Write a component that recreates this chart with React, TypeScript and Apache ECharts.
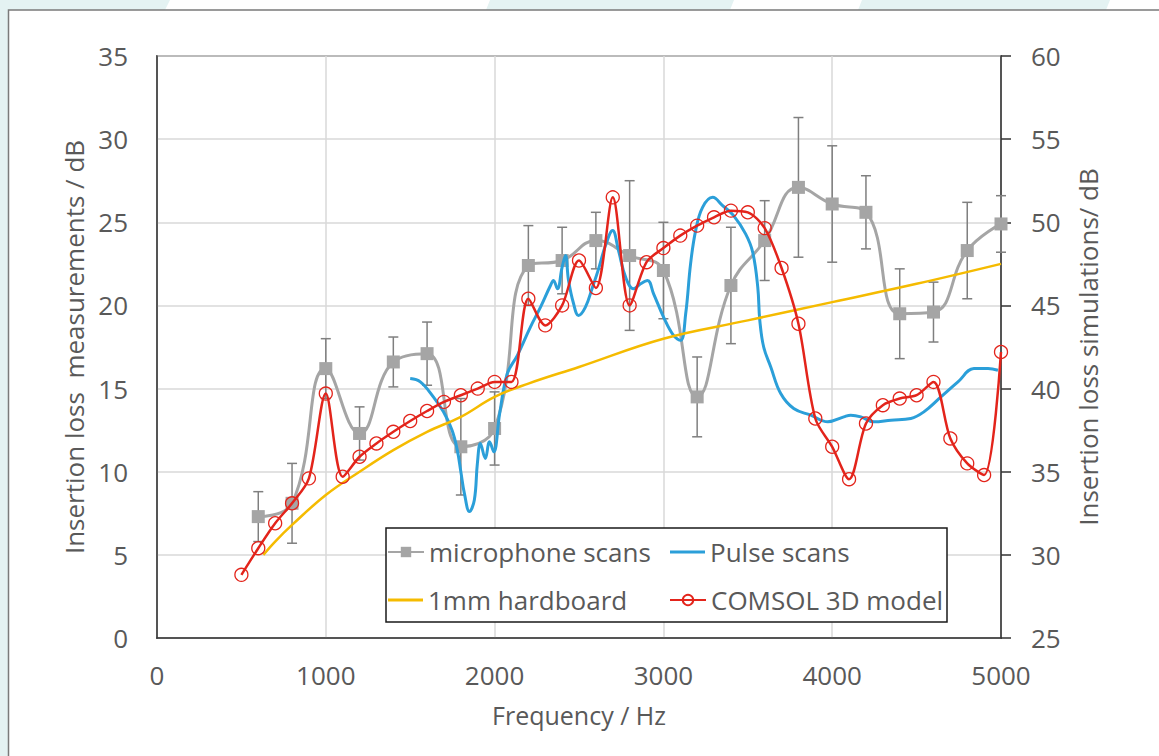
import React, { useEffect, useRef } from "react";
import * as echarts from "echarts";

// Microphone scans (left axis), measured every 200 Hz with ± error
const micFreq = [600, 800, 1000, 1200, 1400, 1600, 1800, 2000, 2200, 2400, 2600, 2800, 3000, 3200, 3400, 3600, 3800, 4000, 4200, 4400, 4600, 4800, 5000];
const micLoss = [7.3, 8.1, 16.2, 12.3, 16.6, 17.1, 11.5, 12.6, 22.4, 22.7, 23.9, 23.0, 22.1, 14.5, 21.2, 23.9, 27.1, 26.1, 25.6, 19.5, 19.6, 23.3, 24.9];
const micErr = [1.5, 2.4, 1.8, 1.6, 1.5, 1.9, 2.9, 2.2, 2.4, 2.0, 1.7, 4.5, 2.9, 2.4, 3.5, 2.4, 4.2, 3.5, 2.2, 2.7, 1.8, 2.9, 1.7];

// Pulse scans (left axis)
const pulseFreq = [1500, 1560, 1637, 1697, 1748, 1779, 1800, 1821, 1851, 1880, 1898, 1916, 1945, 1970, 1995, 2030, 2075, 2135, 2212, 2272, 2331, 2349, 2372, 2400, 2420, 2438, 2468, 2497, 2538, 2580, 2616, 2657, 2699, 2734, 2776, 2823, 2865, 2906, 2942, 3001, 3060, 3102, 3132, 3161, 3191, 3232, 3292, 3351, 3416, 3487, 3529, 3559, 3571, 3594, 3636, 3695, 3772, 3873, 3974, 4069, 4110, 4170, 4247, 4348, 4466, 4543, 4644, 4745, 4840, 4923, 4982];
const pulseLoss = [15.6, 15.4, 14.5, 13.6, 12.5, 11.3, 10.0, 8.7, 7.6, 8.3, 10.5, 11.7, 10.8, 11.8, 11.2, 13.5, 15.9, 17.0, 18.7, 19.9, 21.2, 21.5, 21.0, 22.3, 23.0, 21.5, 20.1, 19.4, 19.9, 21.1, 22.2, 23.6, 24.5, 23.3, 21.7, 21.0, 21.3, 21.5, 20.7, 19.3, 18.2, 17.9, 19.5, 22.5, 24.5, 25.9, 26.5, 26.0, 25.4, 24.3, 23.2, 21.1, 19.1, 17.5, 16.3, 14.7, 13.8, 13.4, 13.0, 13.3, 13.4, 13.3, 13.0, 13.1, 13.2, 13.6, 14.5, 15.4, 16.2, 16.2, 16.1];

// 1mm hardboard (left axis)
const boardFreq = [630, 700, 800, 1000, 1200, 1400, 1600, 1800, 2000, 2200, 2500, 3000, 3500, 4000, 4500, 5000];
const boardLoss = [5.0, 5.8, 6.8, 8.6, 10.0, 11.3, 12.4, 13.3, 14.5, 15.3, 16.3, 18.0, 19.1, 20.2, 21.3, 22.5];

// COMSOL 3D model (right axis)
const comsolFreq = [500, 600, 700, 800, 900, 1000, 1100, 1200, 1300, 1400, 1500, 1600, 1700, 1800, 1900, 2000, 2100, 2200, 2300, 2400, 2500, 2600, 2700, 2800, 2900, 3000, 3100, 3200, 3300, 3400, 3500, 3600, 3700, 3800, 3900, 4000, 4100, 4200, 4300, 4400, 4500, 4600, 4700, 4800, 4900, 5000];
const comsolLoss = [28.8, 30.4, 31.9, 33.1, 34.6, 39.7, 34.7, 35.9, 36.7, 37.4, 38.05, 38.65, 39.2, 39.6, 40.0, 40.4, 40.4, 45.4, 43.8, 45.0, 47.7, 46.05, 51.5, 45.0, 47.6, 48.45, 49.2, 49.8, 50.3, 50.7, 50.6, 49.65, 47.25, 43.9, 38.2, 36.5, 34.55, 37.9, 39.0, 39.4, 39.6, 40.4, 37.0, 35.5, 34.8, 42.2];

const FONT = '"Open Sans", "Noto Sans", sans-serif';
const TEXT = "#595959";
const GRAY = "#a5a5a5";
const BLUE = "#2b9fd9";
const YELLOW = "#f5bb00";
const RED = "#e3241b";
const TEAL = "#e4f2f2";

const zip = (xs: number[], ys: number[]) => xs.map((x, i) => [x, ys[i]]);
const plain = (v: number) => String(v);

export default function App() {
  const ref = useRef<HTMLDivElement>(null);

  useEffect(() => {
    if (!ref.current) return;
    const chart = echarts.init(ref.current, undefined, { renderer: "svg" });

    const legendBase = {
      orient: "horizontal",
      padding: 0,
      itemWidth: 36,
      itemHeight: 13,
      z: 10,
      selectedMode: false,
      textStyle: { color: TEXT, fontSize: 26, fontFamily: FONT },
    };
    // plain line swatch for the series drawn without markers
    const lineLegend = { ...legendBase, itemWidth: 35, itemHeight: 3, icon: "rect" };

    chart.setOption({
      animation: false,
      backgroundColor: "transparent",
      textStyle: { fontFamily: FONT },
      graphic: [
        // page backdrop and framed panel
        { type: "rect", z: -10, shape: { x: 0, y: 0, width: 1159, height: 756 }, style: { fill: TEAL } },
        { type: "polygon", z: -9, shape: { points: [[170, 0], [490, 0], [486, 10], [165, 10]] }, style: { fill: "#ffffff" } },
        { type: "polygon", z: -9, shape: { points: [[734, 0], [862, 0], [858, 10], [730, 10]] }, style: { fill: "#ffffff" } },
        { type: "polygon", z: -9, shape: { points: [[1110, 0], [1159, 0], [1159, 10], [1106, 10]] }, style: { fill: "#ffffff" } },
        { type: "rect", z: -8, shape: { x: 8.5, y: 10, width: 1200, height: 800 }, style: { fill: "#ffffff", stroke: "#7a7a7a", lineWidth: 1.5 } },
        // legend box
        { type: "rect", z: 9, shape: { x: 386, y: 528, width: 561, height: 94 }, style: { fill: "#ffffff", stroke: "#1a1a1a", lineWidth: 1.5 } },
      ],
      legend: [
        { ...legendBase, data: ["microphone scans"], left: 387, top: 539 },
        { ...lineLegend, data: ["Pulse scans"], left: 670, top: 539 },
        { ...lineLegend, data: ["1mm hardboard"], left: 388, top: 587 },
        { ...legendBase, data: ["COMSOL 3D model"], left: 669, top: 587 },
      ],
      grid: {
        left: 157,
        top: 56,
        right: 158,
        bottom: 118,
        show: true,
        borderColor: "#333333",
        borderWidth: 1.5,
        backgroundColor: "transparent",
      },
      xAxis: {
        type: "value",
        min: 0,
        max: 5000,
        interval: 1000,
        name: "Frequency / Hz",
        nameLocation: "middle",
        nameGap: 64,
        nameTextStyle: { color: TEXT, fontSize: 25, fontFamily: FONT },
        axisLine: { show: true, lineStyle: { color: "#333333", width: 1.5 } },
        axisTick: { show: false },
        axisLabel: { color: TEXT, fontSize: 26, fontFamily: FONT, margin: 24, formatter: plain },
        splitLine: { show: true, lineStyle: { color: "#d9d9d9", width: 1.5 } },
      },
      yAxis: [
        {
          type: "value",
          min: 0,
          max: 35,
          interval: 5,
          name: "Insertion loss  measurements / dB",
          nameLocation: "middle",
          nameRotate: 90,
          nameGap: 63,
          nameTextStyle: { color: TEXT, fontSize: 26, fontFamily: FONT },
          axisLine: { show: true, lineStyle: { color: "#333333", width: 1.5 } },
          axisTick: { show: false },
          axisLabel: { color: TEXT, fontSize: 26, fontFamily: FONT, margin: 29, formatter: plain },
          splitLine: { show: true, lineStyle: { color: "#d9d9d9", width: 1.5 } },
        },
        {
          type: "value",
          min: 25,
          max: 60,
          interval: 5,
          position: "right",
          name: "Insertion loss simulations/ dB",
          nameLocation: "middle",
          nameRotate: 90,
          nameGap: 74,
          nameTextStyle: { color: TEXT, fontSize: 26, fontFamily: FONT },
          axisLine: { show: true, lineStyle: { color: "#333333", width: 1.5 } },
          axisTick: { show: true, inside: false, length: 10, lineStyle: { color: "#333333", width: 1.5 } },
          axisLabel: { color: TEXT, fontSize: 26, fontFamily: FONT, margin: 30, formatter: plain },
          splitLine: { show: false },
        },
      ],
      series: [
        {
          type: "custom",
          name: "microphone error",
          xAxisIndex: 0,
          yAxisIndex: 0,
          z: 3,
          silent: true,
          data: micFreq.map((f, i) => [f, micLoss[i] - micErr[i], micLoss[i] + micErr[i]]),
          encode: { x: 0, y: [1, 2] },
          renderItem: (_params: any, api: any) => {
            const x = api.value(0);
            const lo = api.coord([x, api.value(1)]);
            const hi = api.coord([x, api.value(2)]);
            const half = 5;
            const style = { stroke: "#7f7f7f", lineWidth: 1.5 };
            return {
              type: "group",
              children: [
                { type: "line", shape: { x1: lo[0], y1: lo[1], x2: hi[0], y2: hi[1] }, style },
                { type: "line", shape: { x1: hi[0] - half, y1: hi[1], x2: hi[0] + half, y2: hi[1] }, style },
                { type: "line", shape: { x1: lo[0] - half, y1: lo[1], x2: lo[0] + half, y2: lo[1] }, style },
              ],
            };
          },
        },
        {
          type: "line",
          name: "microphone scans",
          yAxisIndex: 0,
          z: 4,
          smooth: 0.45,
          data: zip(micFreq, micLoss),
          symbol: "rect",
          symbolSize: 13,
          lineStyle: { color: GRAY, width: 3 },
          itemStyle: { color: GRAY },
        },
        {
          type: "line",
          name: "Pulse scans",
          yAxisIndex: 0,
          z: 5,
          smooth: 0.4,
          showSymbol: false,
          symbol: "none",
          data: zip(pulseFreq, pulseLoss),
          lineStyle: { color: BLUE, width: 3 },
          itemStyle: { color: BLUE },
        },
        {
          type: "line",
          name: "1mm hardboard",
          yAxisIndex: 0,
          z: 6,
          smooth: 0.4,
          showSymbol: false,
          symbol: "none",
          data: zip(boardFreq, boardLoss),
          lineStyle: { color: YELLOW, width: 2.5 },
          itemStyle: { color: YELLOW },
        },
        {
          type: "line",
          name: "COMSOL 3D model",
          yAxisIndex: 1,
          z: 7,
          smooth: 0.3,
          data: zip(comsolFreq, comsolLoss),
          symbol: "circle",
          symbolSize: 13,
          lineStyle: { color: RED, width: 2.5 },
          itemStyle: { color: "rgba(255,255,255,0)", borderColor: RED, borderWidth: 1.3 },
        },
      ],
    });

    return () => chart.dispose();
  }, []);

  return (
    <div
      ref={ref}
      style={{ position: "fixed", left: 0, top: 0, width: 1159, height: 756, background: "#ffffff" }}
    />
  );
}
